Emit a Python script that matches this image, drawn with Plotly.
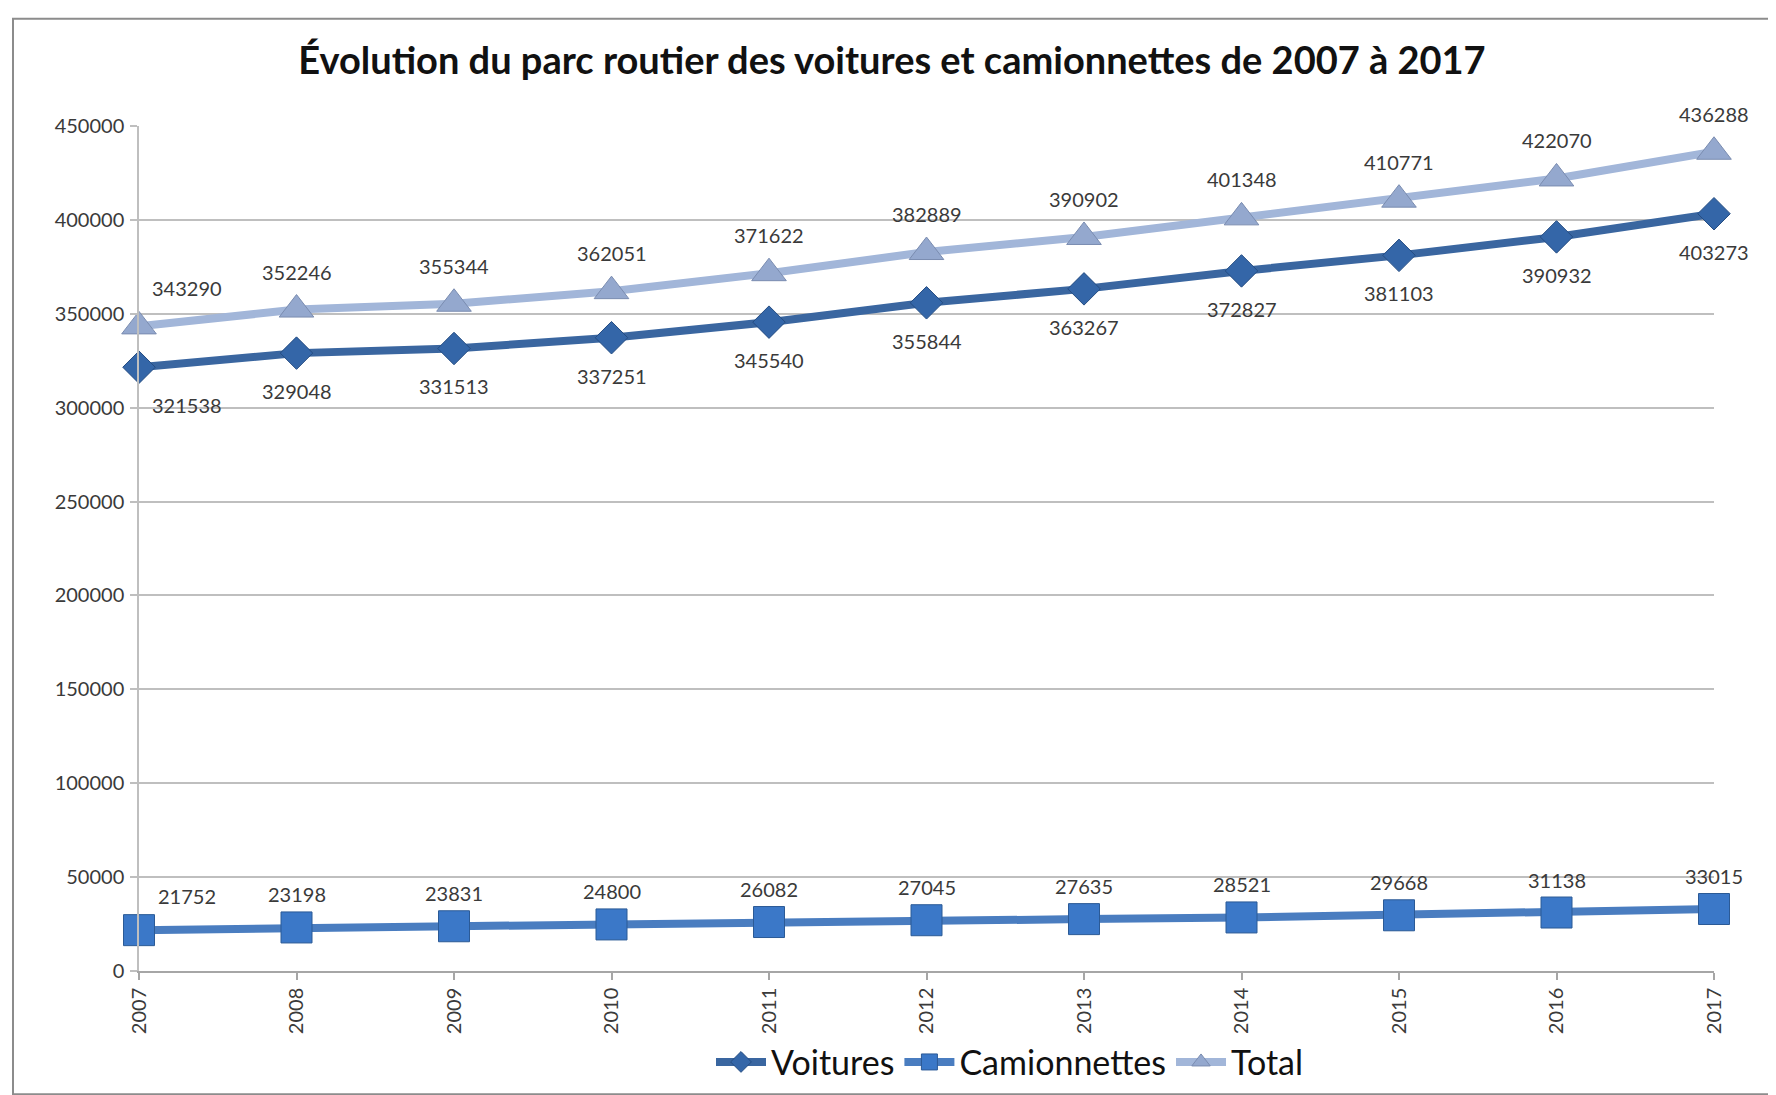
import plotly.graph_objects as go

years = [2007, 2008, 2009, 2010, 2011, 2012, 2013, 2014, 2015, 2016, 2017]
voitures = [321538, 329048, 331513, 337251, 345540, 355844, 363267, 372827, 381103, 390932, 403273]
camionnettes = [21752, 23198, 23831, 24800, 26082, 27045, 27635, 28521, 29668, 31138, 33015]
total = [343290, 352246, 355344, 362051, 371622, 382889, 390902, 401348, 410771, 422070, 436288]
y_ticks = [0, 50000, 100000, 150000, 200000, 250000, 300000, 350000, 400000, 450000]

W, H = 1776, 1095
ML, MR, MT, MB = 131, 70, 118, 126
FONT = "Lato"
LABEL_COLOR = "#3a3a3a"

fig = go.Figure()

series = [
    ("Voitures", voitures, "#3A66A0", "#3466A8", "#244C82", "diamond", 25, 38),
    ("Camionnettes", camionnettes, "#4A7DC0", "#3B78C8", "#2B5A96", "square", 31, -33),
    ("Total", total, "#A2B6D9", "#94A8CE", "#7A8CB0", "triangle-up", 30, -38),
]
order = [2, 0, 1]
for i in order:
    name, vals, lc, mc, mlc, sym, msz, _ = series[i]
    fig.add_trace(go.Scatter(
        x=years, y=vals, name=name, mode="lines+markers",
        line=dict(color=lc, width=8),
        marker=dict(symbol=sym, size=msz, color=mc, line=dict(color=mlc, width=1)),
        cliponaxis=False,
        legendrank={"Voitures": 1, "Camionnettes": 2, "Total": 3}[name],
    ))

annotations = []
for name, vals, lc, mc, mlc, sym, msz, off in series:
    for j, (x, v) in enumerate(zip(years, vals)):
        xs = 48 if j == 0 else 0
        ys = -off
        if j == 0 and name == "Camionnettes":
            ys = 34
        annotations.append(dict(
            x=x, y=v, xref="x", yref="y", text=str(v), showarrow=False,
            xshift=xs, yshift=ys,
            font=dict(family=FONT, size=20, color=LABEL_COLOR),
        ))

fig.update_layout(
    width=W, height=H,
    margin=dict(l=ML, r=MR, t=MT, b=MB),
    paper_bgcolor="white", plot_bgcolor="white",
    title=dict(
        text="<b>Évolution du parc routier des voitures et camionnettes de 2007 à 2017</b>",
        x=884 / W, xanchor="center", y=1 - 53 / H, yanchor="middle",
        font=dict(family=FONT, size=38, color="#111111"),
    ),
    xaxis=dict(
        range=[years[0], years[-1]], tickmode="array", tickvals=years,
        ticktext=[str(y) for y in years], tickangle=-90,
        showgrid=False, zeroline=False,
        showline=True, linecolor="#A6A6A6", linewidth=1.5,
        ticks="outside", ticklen=7, tickcolor="#A6A6A6", tickwidth=1.5,
        tickfont=dict(family=FONT, size=20, color=LABEL_COLOR),
    ),
    yaxis=dict(
        range=[0, 450000], tickmode="array", tickvals=y_ticks,
        ticktext=[str(t) for t in y_ticks],
        showgrid=True, gridcolor="#BFBFBF", gridwidth=1.5,
        zeroline=False,
        showline=True, linecolor="#BFBFBF", linewidth=1.5,
        ticks="outside", ticklen=7, tickcolor="#BFBFBF", tickwidth=1.5,
        tickfont=dict(family=FONT, size=20, color=LABEL_COLOR),
        ticklabelstandoff=2,
    ),
    legend=dict(
        orientation="h", x=(1002 - ML) / (W - ML - MR), xanchor="center",
        y=(H - MB - 1061) / (H - MT - MB), yanchor="middle",
        font=dict(family=FONT, size=34, color="#111111"),
        traceorder="normal", itemwidth=50,
    ),
    annotations=annotations,
    showlegend=True,
)

pw, ph = W - ML - MR, H - MT - MB
fig.add_shape(
    type="rect", xref="paper", yref="paper",
    x0=(5 - ML) / pw, x1=(W + 10 - ML) / pw,
    y0=(H - MB - 1093) / ph, y1=(H - MB - 10) / ph,
    line=dict(color="#8C8C8C", width=2), fillcolor="rgba(0,0,0,0)", layer="below",
)

fig.write_html("out.html")
